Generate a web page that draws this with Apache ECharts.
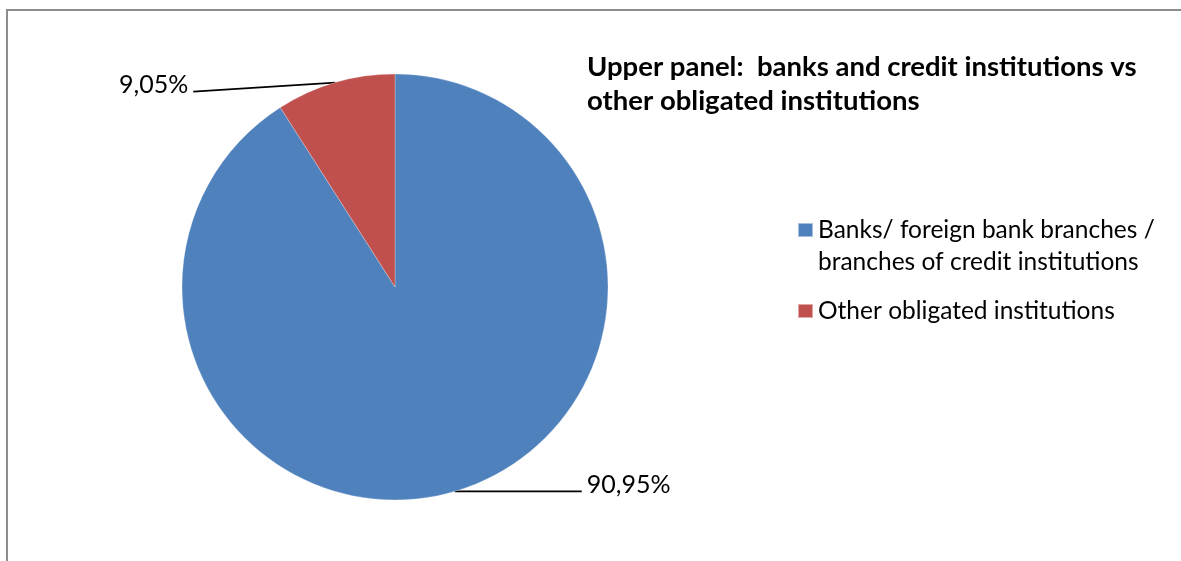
<!DOCTYPE html>
<html>
<head>
<meta charset="utf-8">
<script src="https://cdn.jsdelivr.net/npm/echarts@6/dist/echarts.min.js"></script>
<style>
  html, body { margin: 0; padding: 0; background: #ffffff; }
  #chart { width: 1181px; height: 561px; }
</style>
</head>
<body>
<div id="chart"></div>
<script>
// Share of obligated institutions (percent)
const categories = [
  'Banks/ foreign bank branches /\nbranches of credit institutions',
  'Other obligated institutions'
];
const shares = [90.95, 9.05];
const sliceColors = ['#4F81BD', '#C0504D'];
const titleText = 'Upper panel:  banks and credit institutions vs\nother obligated institutions';

const FONT = 'Lato, "Liberation Sans", sans-serif';
const LINE_H = 32;

// per-slice leader length; each label sits just above the end of its leader
const leaderLen = [127, 142];
const labelRaised = [true, true];
// the small slice's label hangs a little lower, its leader sloping down to it
const labelDrop = [0, 9];

const chart = echarts.init(document.getElementById('chart'), null, { renderer: 'canvas' });

chart.setOption({
  backgroundColor: '#ffffff',
  animation: false,
  graphic: [{
    type: 'rect',
    shape: { x: 7, y: 10, width: 1300, height: 700 },
    style: { fill: 'none', stroke: '#8c8c8c', lineWidth: 2 },
    silent: true,
    z: -1
  }],
  title: {
    text: titleText,
    left: 587,
    top: 50,
    padding: 0,
    textStyle: {
      fontFamily: FONT,
      fontWeight: 'bold',
      fontSize: 27.5,
      lineHeight: 34,
      color: '#000000'
    }
  },
  legend: {
    orient: 'vertical',
    left: 797,
    top: 182,
    padding: 0,
    itemWidth: 15,
    itemHeight: 14,
    itemGap: 17,
    icon: 'rect',
    // a leading blank line keeps the marker level with the first text line
    formatter: function (name) {
      return name.indexOf('\n') >= 0 ? '\n' + name : name;
    },
    textStyle: { fontFamily: FONT, fontSize: 24.5, lineHeight: LINE_H, color: '#000000' },
    data: categories
  },
  series: [{
    type: 'pie',
    center: [395, 287],
    radius: 213,
    startAngle: 90,
    clockwise: true,
    avoidLabelOverlap: false,
    itemStyle: { borderColor: 'rgba(255,255,255,0.5)', borderWidth: 0.5 },
    label: {
      show: true,
      position: 'outside',
      fontFamily: FONT,
      fontSize: 25,
      lineHeight: 14,
      color: '#000000',
      formatter: function (p) {
        const txt = p.value.toFixed(2).replace('.', ',') + '%';
        return labelRaised[p.dataIndex] ? txt + '\n' : txt;
      }
    },
    labelLine: {
      show: true,
      length: 0,
      lineStyle: { color: '#000000', width: 1.8 }
    },
    labelLayout: function (params) {
      const drop = labelDrop[params.dataIndex];
      const pts = params.labelLinePoints;
      if (!drop || !pts || !pts.length) return {};
      const last = pts[pts.length - 1];
      const moved = pts.slice(0, pts.length - 1).concat([[last[0], last[1] + drop]]);
      return { dy: drop, labelLinePoints: moved };
    },
    emphasis: { disabled: true },
    data: categories.map(function (name, i) {
      return {
        name: name,
        value: shares[i],
        itemStyle: { color: sliceColors[i] },
        labelLine: { length2: leaderLen[i] }
      };
    })
  }]
});
</script>
</body>
</html>
